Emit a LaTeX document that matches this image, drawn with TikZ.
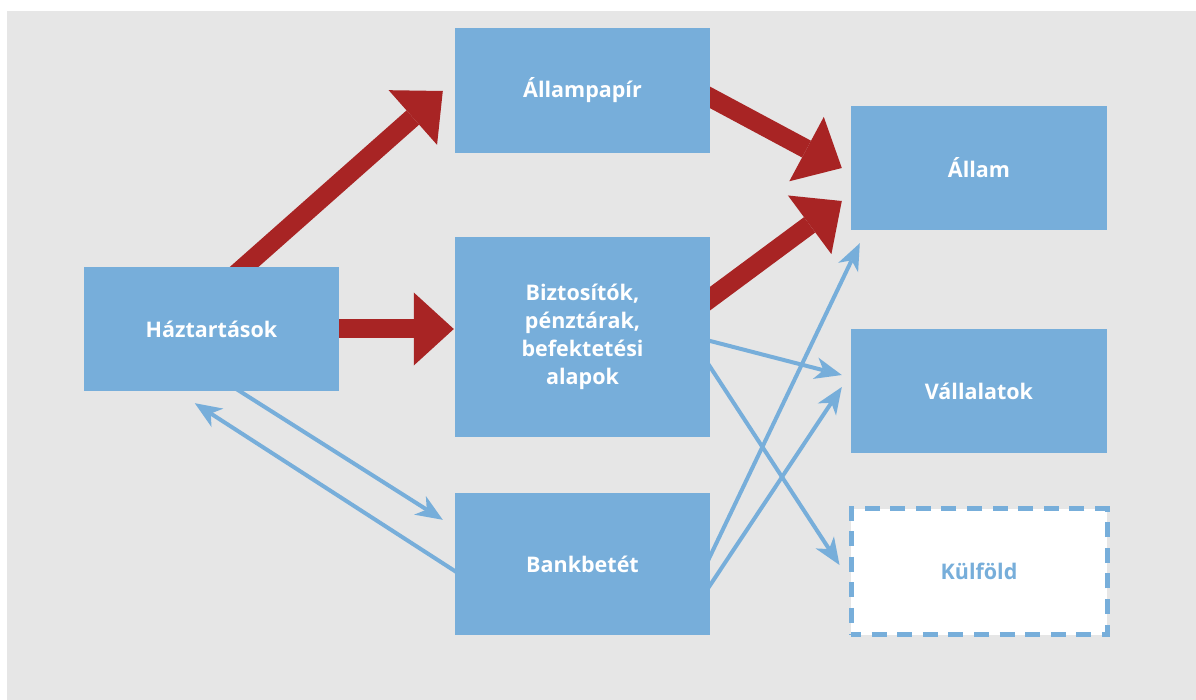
\documentclass[tikz,border=0pt]{standalone}
\usepackage{fontspec}
\setmainfont{Open Sans}
\usetikzlibrary{arrows.meta,calc}
\definecolor{boxblue}{HTML}{77AEDA}
\definecolor{arrred}{HTML}{A82424}
\definecolor{bggray}{HTML}{E6E6E6}
\pgfdeclarelayer{bg}
\pgfdeclarelayer{arr}
\pgfsetlayers{bg,arr,main}
\tikzset{
  box/.style={fill=boxblue, text=white, font=\fontsize{21.5}{28}\selectfont\bfseries,
    align=center, inner sep=0pt, minimum width=255pt, minimum height=124pt},
  dashbox/.style={box, fill=white, text=boxblue, draw=boxblue, line width=5pt,
    dash pattern=on 15pt off 10.6pt, dash phase=5pt},
  redarr/.style={draw=arrred, line width=19pt, shorten <=-14pt,
    -{Triangle[length=40pt,width=73pt,line width=0pt]}},
  bluearr/.style={draw=boxblue, line width=4pt, shorten <=-5pt,
    -{Stealth[length=27pt,width=22pt,inset=8pt,line width=0pt]}}
}
\begin{document}
\begin{tikzpicture}[x=1pt,y=-1pt]
\useasboundingbox (0,0) rectangle (1196,700);
\begin{pgfonlayer}{bg}
  \fill[bggray] (7,11) rectangle (1196,700);
\end{pgfonlayer}
\node[box] (hh) at (211.5,329) {Háztartások};
\node[box, minimum height=125pt] (ap) at (582.5,90.5) {Állampapír};
\node[box, minimum height=200pt] (bz) at (582.5,337) {Biztosítók,\\pénztárak,\\befektetési\\alapok};
\node[box, minimum height=142pt] (bb) at (582.5,564) {Bankbetét};
\node[box, minimum width=256pt] (al) at (979,168) {Állam};
\node[box, minimum width=256pt] (va) at (979,391) {Vállalatok};
\node[dashbox, minimum width=256pt, minimum height=126pt] (kf) at (979,571.5) {Külföld};
\begin{pgfonlayer}{arr}
  % red arrows
  \draw[redarr] ($(hh.north west)+(160.5,0)$) -- ($(ap.west)+(-12,0.5)$);
  \draw[redarr, shorten <=-6pt] (hh.east) -- ($(hh.east -| bz.west)+(-1,0)$);
  \draw[redarr] ($(ap.east)+(0,7)$) -- ($(al.west)+(-9,0)$);
  \draw[redarr] ($(bz.east)+(0,-38.5)$) -- ($(al.west)+(-9,33)$);
  % blue arrows
  \draw[bluearr] ($(hh.south west)+(156,0)$) -- ($(bb.north west)+(-12,27)$);
  \draw[bluearr] ($(bb.west)+(0,7)$) -- ($(hh.south west)+(111,12)$);
  \draw[bluearr] ($(bz.east)+(0,4)$) -- ($(va.west)+(-9,-16)$);
  \draw[bluearr] ($(bz.east)+(0,30)$) -- ($(kf.west)+(-9,-6.5)$);
  \draw[bluearr] ($(bb.east)+(0,21)$) -- ($(va.west)+(-9,-4)$);
  \draw[bluearr] ($(bb.east)+(0,-8)$) -- ($(al.south west)+(9,13)$);
\end{pgfonlayer}
\end{tikzpicture}
\end{document}
